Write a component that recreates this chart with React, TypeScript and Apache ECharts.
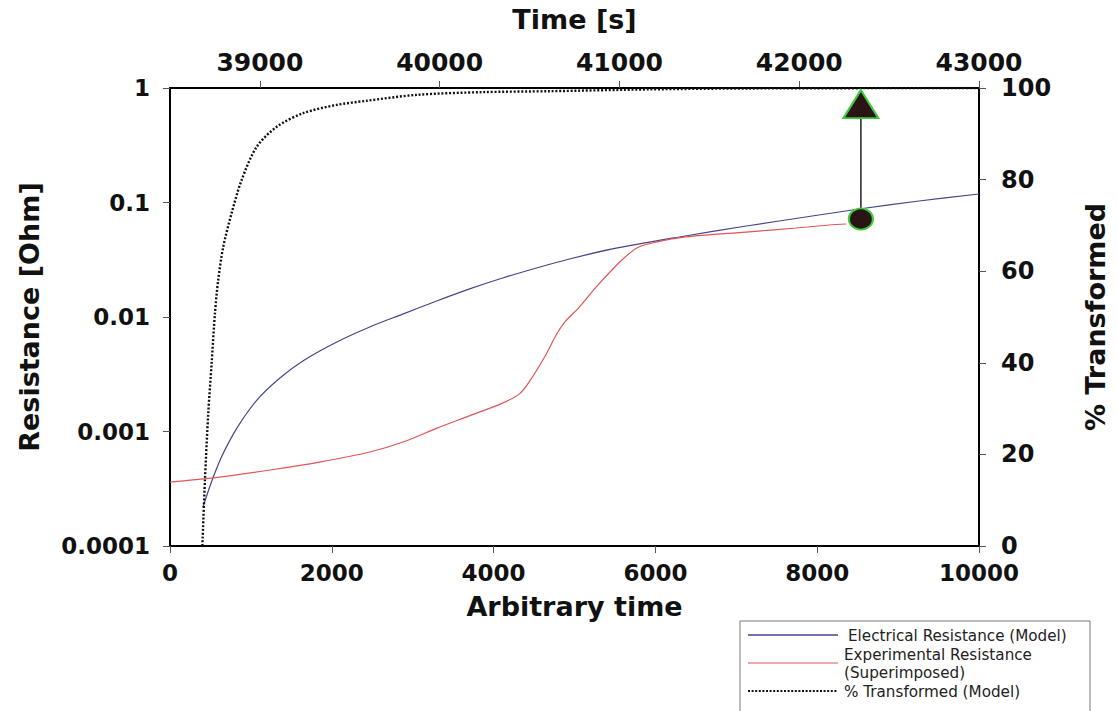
import React, { useEffect, useRef } from "react";
import * as echarts from "echarts";

// Electrical Resistance (Model) – arbitrary time vs resistance [Ohm]
const modelTime = [407, 469, 531, 642, 827, 1074, 1358, 1642, 2062, 2469, 2877, 3296, 3704, 4111, 4531, 4938, 5469, 6296, 7123, 7938, 8519, 9259, 10000];
const modelResistance = [2.19e-4, 2.96e-4, 3.93e-4, 6.11e-4, 1.07e-3, 1.88e-3, 2.93e-3, 4.13e-3, 6.05e-3, 8.18e-3, 1.06e-2, 1.38e-2, 1.76e-2, 2.19e-2, 2.68e-2, 3.21e-2, 3.93e-2, 5.0e-2, 6.23e-2, 7.62e-2, 8.77e-2, 0.1031, 0.1187];

// Experimental Resistance (Superimposed)
const expTime = [0, 530, 1235, 1850, 2470, 2880, 3300, 3700, 4110, 4320, 4440, 4630, 4780, 4880, 5060, 5270, 5560, 5770, 5960, 6380, 7120, 7740, 8150, 8360];
const expResistance = [3.62e-4, 3.93e-4, 4.61e-4, 5.41e-4, 6.62e-4, 8.09e-4, 1.07e-3, 1.37e-3, 1.77e-3, 2.13e-3, 2.71e-3, 4.47e-3, 7.11e-3, 9.04e-3, 1.22e-2, 1.83e-2, 3.02e-2, 4.01e-2, 4.43e-2, 5.0e-2, 5.52e-2, 5.99e-2, 6.36e-2, 6.49e-2];

// % Transformed (Model)
const transTime = [400, 432, 473, 515, 556, 596, 658, 762, 885, 1070, 1317, 1646, 2058, 2428, 3046, 3864, 4691, 5926, 7160, 10000];
const transPercent = [0, 14.4, 29.0, 40.0, 50.9, 58.1, 65.3, 72.7, 79.9, 87.1, 91.5, 94.5, 96.3, 97.2, 98.5, 99.1, 99.3, 99.7, 99.9, 100];

// Markers
const markerTime = 8540;
const markerResistance = 0.0718;
const markerArrowTip = 0.55;
const markerPercent = 96.5;

// Axis ticks
const topTimeTicks = [39000, 40000, 41000, 42000, 43000];
const logLabels: Record<string, string> = { "-4": "0.0001", "-3": "0.001", "-2": "0.01", "-1": "0.1", "0": "1" };

const FONT = '"DejaVu Sans", Verdana, sans-serif';

export default function App() {
  const ref = useRef<HTMLDivElement>(null);
  useEffect(() => {
    document.body.style.margin = "0";
    if (!ref.current) return;
    const chart = echarts.init(ref.current, null, { renderer: "svg" });
    const tick = (size: number) => ({ fontFamily: FONT, fontSize: size, fontWeight: "bold" as const, color: "#111" });
    const nameStyle = { fontFamily: FONT, fontSize: 27, fontWeight: "bold" as const, color: "#111" };
    const axisLine = { show: true, lineStyle: { color: "#000", width: 2 } };
    const axisTick = { show: true, inside: false, length: 7, lineStyle: { color: "#555", width: 1 } };
    const zip = (a: number[], b: number[]) => a.map((v, i) => [v, b[i]]);
    const plain = (v: number) => String(Math.round(v));

    chart.setOption({
      animation: false,
      backgroundColor: "#fff",
      grid: { left: 170, right: 137, top: 88, bottom: 165, containLabel: false },
      xAxis: [
        {
          type: "value",
          position: "bottom",
          min: 0,
          max: 10000,
          interval: 2000,
          name: "Arbitrary time",
          nameLocation: "middle",
          nameGap: 47,
          nameTextStyle: nameStyle,
          axisLine,
          axisTick,
          splitLine: { show: false },
          axisLabel: { ...tick(23), margin: 15, formatter: plain },
        },
        {
          type: "value",
          position: "top",
          min: 38500,
          max: 43000,
          name: "Time [s]",
          nameLocation: "middle",
          nameGap: 55,
          nameTextStyle: nameStyle,
          axisLine,
          axisTick: { ...axisTick, customValues: topTimeTicks },
          splitLine: { show: false },
          axisLabel: { ...tick(25), margin: 13, customValues: topTimeTicks, formatter: plain },
        },
      ],
      yAxis: [
        {
          type: "log",
          logBase: 10,
          position: "left",
          min: 0.0001,
          max: 1,
          name: "Resistance [Ohm]",
          nameLocation: "middle",
          nameRotate: 90,
          nameGap: 127,
          nameTextStyle: nameStyle,
          axisLine,
          axisTick,
          splitLine: { show: false },
          axisLabel: {
            ...tick(23),
            margin: 20,
            formatter: (v: number) => {
              const e = Math.round(Math.log10(v));
              return logLabels[String(e)] ?? String(v);
            },
          },
        },
        {
          type: "value",
          position: "right",
          min: 0,
          max: 100,
          interval: 20,
          name: "% Transformed",
          nameLocation: "middle",
          nameRotate: 90,
          nameGap: 103,
          nameTextStyle: nameStyle,
          axisLine,
          axisTick,
          splitLine: { show: false },
          axisLabel: { ...tick(24), margin: 22, lineHeight: 20, formatter: plain },
        },
      ],
      series: [
        {
          name: "Electrical Resistance (Model)",
          type: "line",
          xAxisIndex: 0,
          yAxisIndex: 0,
          data: zip(modelTime, modelResistance),
          showSymbol: false,
          symbol: "none",
          smooth: 0.3,
          lineStyle: { color: "#45458f", width: 1.2 },
          z: 3,
        },
        {
          name: "Experimental Resistance (Superimposed)",
          type: "line",
          xAxisIndex: 0,
          yAxisIndex: 0,
          data: zip(expTime, expResistance),
          showSymbol: false,
          symbol: "none",
          smooth: 0.3,
          lineStyle: { color: "#e05555", width: 1.2 },
          z: 3,
        },
        {
          name: "% Transformed (Model)",
          type: "line",
          xAxisIndex: 0,
          yAxisIndex: 1,
          data: zip(transTime, transPercent),
          showSymbol: false,
          symbol: "none",
          smooth: 0.3,
          lineStyle: { color: "#111", width: 2.4, type: [2, 1.8], cap: "butt" },
          z: 3,
        },
        {
          name: "connector",
          type: "line",
          xAxisIndex: 0,
          yAxisIndex: 0,
          data: [
            [markerTime, markerResistance],
            [markerTime, markerArrowTip],
          ],
          showSymbol: false,
          symbol: "none",
          lineStyle: { color: "#222", width: 1.5 },
          z: 4,
        },
        {
          name: "circle",
          type: "scatter",
          xAxisIndex: 0,
          yAxisIndex: 0,
          data: [[markerTime, markerResistance]],
          symbol: "circle",
          symbolSize: [24, 21],
          itemStyle: { color: "#2a1414", borderColor: "#3ccc3c", borderWidth: 2, opacity: 1 },
          z: 5,
        },
        {
          name: "triangle",
          type: "scatter",
          xAxisIndex: 0,
          yAxisIndex: 1,
          data: [[markerTime, markerPercent]],
          symbol: "triangle",
          symbolSize: [35, 28],
          itemStyle: { color: "#2a1414", borderColor: "#3ccc3c", borderWidth: 2, opacity: 1 },
          z: 5,
        },
      ],
      graphic: [
        {
          type: "rect",
          shape: { x: 740, y: 621, width: 350, height: 100 },
          style: { fill: "#fff", stroke: "#777", lineWidth: 1 },
        },
        { type: "line", shape: { x1: 748, y1: 635, x2: 838, y2: 635 }, style: { stroke: "#45458f", lineWidth: 1.3 } },
        { type: "line", shape: { x1: 748, y1: 663, x2: 838, y2: 663 }, style: { stroke: "#e05555", lineWidth: 1.2 } },
        {
          type: "line",
          shape: { x1: 748, y1: 691, x2: 838, y2: 691 },
          style: { stroke: "#111", lineWidth: 2.2, lineDash: [2, 1.6] },
        },
        {
          type: "text",
          x: 848,
          y: 636,
          style: { text: "Electrical Resistance (Model)", font: `15.2px ${FONT}`, fill: "#222", verticalAlign: "middle" },
        },
        {
          type: "text",
          x: 844,
          y: 655,
          style: { text: "Experimental Resistance", font: `15.2px ${FONT}`, fill: "#222", verticalAlign: "middle" },
        },
        {
          type: "text",
          x: 844,
          y: 673,
          style: { text: "(Superimposed)", font: `15.2px ${FONT}`, fill: "#222", verticalAlign: "middle" },
        },
        {
          type: "text",
          x: 844,
          y: 692,
          style: { text: "% Transformed (Model)", font: `15.2px ${FONT}`, fill: "#222", verticalAlign: "middle" },
        },
      ],
    });
    return () => chart.dispose();
  }, []);
  return <div ref={ref} style={{ width: 1117, height: 711 }} />;
}
